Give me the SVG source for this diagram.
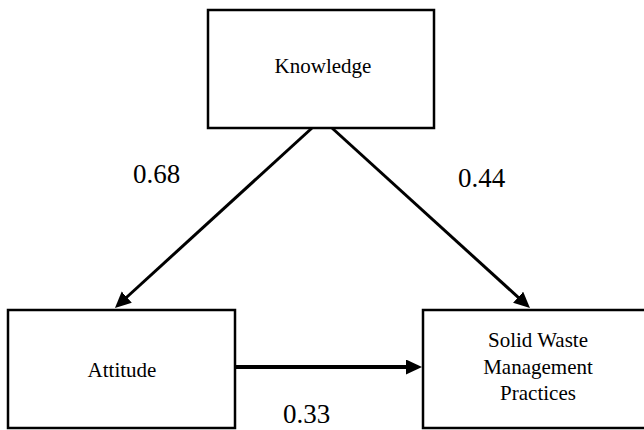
<svg xmlns="http://www.w3.org/2000/svg" width="644" height="430" viewBox="0 0 644 430">
<style>
.box{fill:#fff;stroke:#000;stroke-width:2.5}
.lbl{font-size:21px;fill:#000;text-anchor:middle}
.num{font-size:27px;fill:#000}
.edge{stroke:#000;stroke-width:3;fill:none;marker-end:url(#ah)}
</style>
<defs>
<marker id="ah" markerUnits="userSpaceOnUse" markerWidth="18" markerHeight="18" refX="2" refY="7.5" orient="auto">
<path d="M0,0 L16,7.5 L0,15 z" fill="#000"/>
</marker>
</defs>
<rect width="644" height="430" fill="#fff"/>
<g id="connectors">
<line class="edge" x1="312" y1="128" x2="125.3" y2="298.5"/>
<line class="edge" x1="332" y1="128" x2="519.6" y2="298.6"/>
<line class="edge" x1="235" y1="367" x2="408" y2="367" style="stroke-width:4"/>
</g>
<g font-family="'Liberation Serif', 'DejaVu Serif', serif">
<g id="knowledge">
<rect class="box" x="208" y="10" width="226" height="118"/>
<text class="lbl" x="323" y="73">Knowledge</text>
</g>
<g id="attitude">
<rect class="box" x="8" y="310" width="227" height="118"/>
<text class="lbl" x="122" y="377">Attitude</text>
</g>
<g id="swmp">
<rect class="box" x="423" y="310" width="224" height="118"/>
<text class="lbl" x="538" y="347">Solid Waste</text>
<text class="lbl" x="538" y="374">Management</text>
<text class="lbl" x="538" y="400">Practices</text>
</g>
<g id="labels">
<text class="num" x="133" y="183">0.68</text>
<text class="num" x="458" y="187">0.44</text>
<text class="num" x="283" y="423">0.33</text>
</g>
</g>
</svg>
